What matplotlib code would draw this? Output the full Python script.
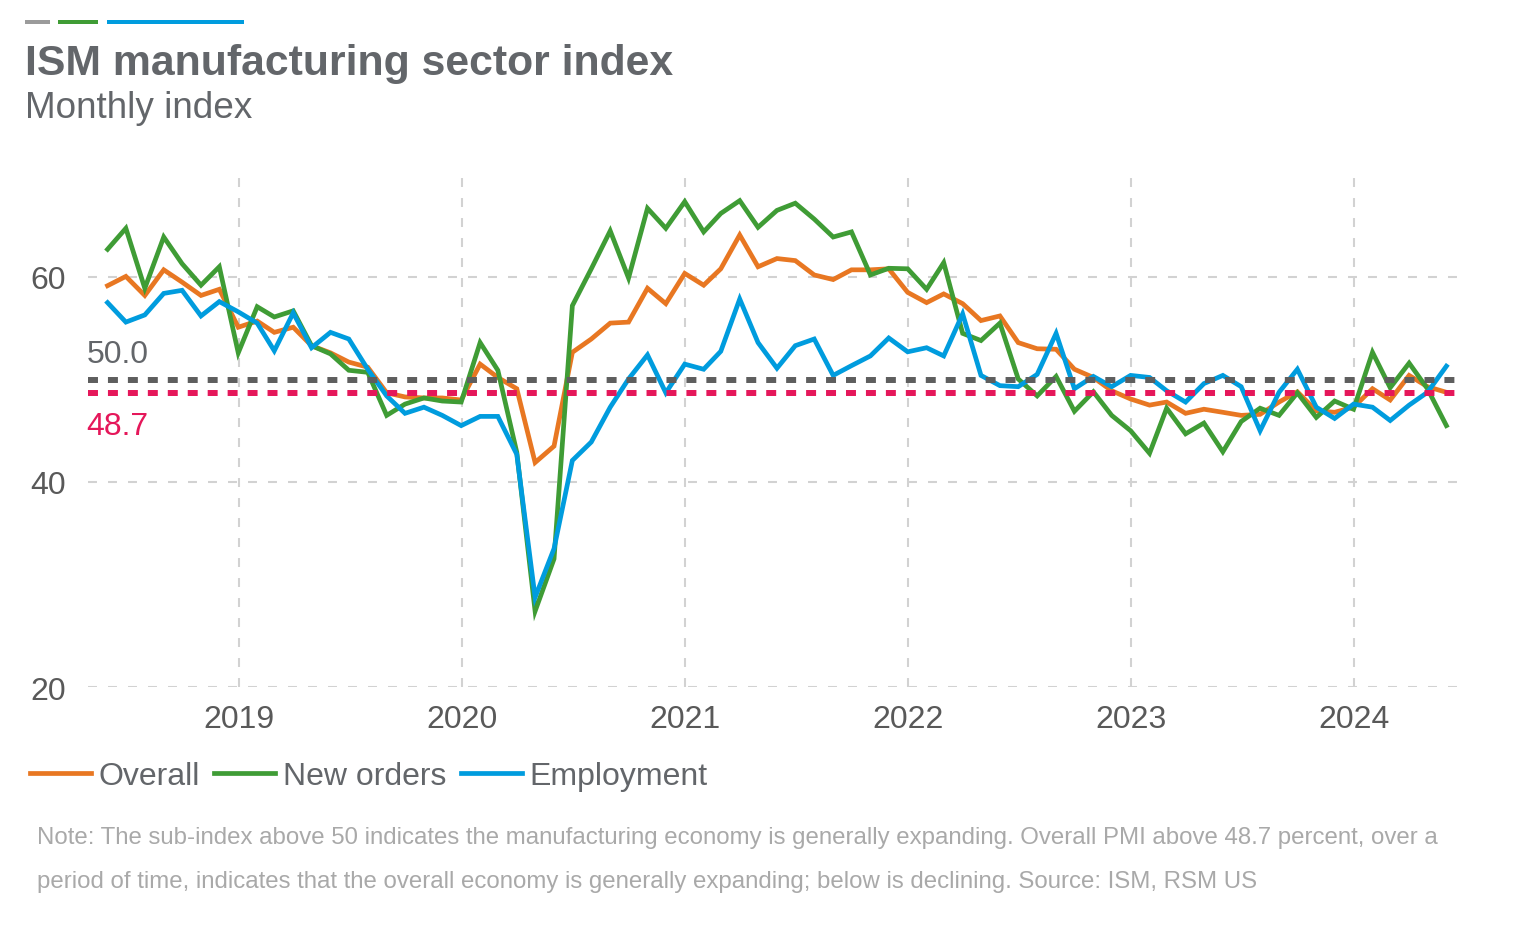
import matplotlib
matplotlib.use('Agg')
import matplotlib.pyplot as plt
import pandas as pd
from matplotlib.patches import Rectangle

plt.rcParams['font.family'] = ['Liberation Sans', 'DejaVu Sans']

# ---------------- data ----------------
months = pd.date_range('2018-05-31', '2024-05-31', freq='ME')

overall = [59.15, 60.06, 58.2, 60.7, 59.5, 58.2, 58.8, 55.1, 55.7, 54.6, 55.1, 53.3,
           52.6, 51.7, 51.2, 48.7, 48.3, 48.2, 48.2, 48.0, 51.5, 50.2, 49.1, 41.9,
           43.5, 52.65, 53.95, 55.5, 55.6, 58.9, 57.4, 60.35, 59.2, 60.8, 64.1, 61.0,
           61.8, 61.6, 60.2, 59.75, 60.7, 60.7, 60.8, 58.5, 57.5, 58.35, 57.4, 55.75,
           56.2, 53.6, 53.0, 52.95, 51.0, 50.2, 48.9, 48.1, 47.5, 47.8, 46.7, 47.1,
           46.8, 46.5, 46.6, 47.8, 48.8, 46.95, 46.8, 47.3, 49.1, 48.0, 50.4, 49.3,
           48.75]

new_orders = [62.7, 64.75, 58.9, 63.9, 61.3, 59.2, 61.0, 52.6, 57.1, 56.1, 56.7, 53.3,
              52.5, 50.9, 50.7, 46.5, 47.6, 48.2, 47.9, 47.8, 53.6, 50.9, 42.9, 27.4,
              32.5, 57.2, 60.8, 64.5, 59.9, 66.7, 64.75, 67.35, 64.4, 66.2, 67.45, 64.85,
              66.5, 67.2, 65.65, 63.9, 64.4, 60.2, 60.85, 60.8, 58.8, 61.4, 54.5, 53.8,
              55.5, 50.05, 48.4, 50.3, 46.9, 48.8, 46.5, 45.0, 42.8, 47.2, 44.7, 45.75,
              42.95, 45.9, 47.2, 46.5, 48.7, 46.3, 47.9, 47.1, 52.65, 49.2, 51.6, 49.1,
              45.5]

employment = [57.5, 55.6, 56.3, 58.4, 58.7, 56.2, 57.6, 56.6, 55.5, 52.8, 56.5, 53.1,
              54.6, 53.95, 51.0, 48.4, 46.7, 47.3, 46.5, 45.5, 46.4, 46.4, 42.7, 28.75,
              33.5, 42.1, 43.9, 47.3, 50.05, 52.4, 48.7, 51.5, 51.0, 52.75, 57.85, 53.6,
              51.1, 53.3, 53.95, 50.4, 51.35, 52.3, 54.05, 52.7, 53.1, 52.3, 56.4, 50.4,
              49.4, 49.3, 50.5, 54.5, 49.1, 50.3, 49.3, 50.4, 50.2, 48.9, 47.8, 49.6,
              50.4, 49.3, 45.0, 48.75, 51.0, 47.3, 46.2, 47.6, 47.3, 46.0, 47.5, 48.75,
              51.3]

series_names = ['Overall', 'New orders', 'Employment']
year_ticks = [2019, 2020, 2021, 2022, 2023, 2024]
y_ticks = [20, 40, 60]
expansion_level = 50.0
economy_level = 48.7

title = 'ISM manufacturing sector index'
subtitle = 'Monthly index'
note_1 = ('Note: The sub-index above 50 indicates the manufacturing economy is generally '
          'expanding. Overall PMI above 48.7 percent, over a')
note_2 = ('period of time, indicates that the overall economy is generally expanding; '
          'below is declining. Source: ISM, RSM US')

# ---------------- style ----------------
C_ORANGE = '#e87722'
C_GREEN = '#3f9c35'
C_BLUE = '#009cde'
C_TEXT = '#63666a'
C_TICK = '#595959'
C_GRID = '#d2d2d2'
C_FIFTY = '#5e5e5e'
C_RED = '#e5175a'
C_NOTE = '#a9a9a9'

W, H = 1520, 928
fig = plt.figure(figsize=(W / 100, H / 100), dpi=100)
fig.patch.set_facecolor('white')

left, right, top, bottom = 88, 1458, 175.5, 688
ax = fig.add_axes([left / W, 1 - bottom / H, (right - left) / W, (bottom - top) / H])

lines = []
for vals, col, name in zip([overall, new_orders, employment],
                           [C_ORANGE, C_GREEN, C_BLUE], series_names):
    ln, = ax.plot(months, vals, color=col, lw=3.4, label=name,
                  solid_joinstyle='miter', zorder=3)
    lines.append(ln)

ax.axhline(expansion_level, color=C_FIFTY, lw=4.3, ls=(0, (1.67, 1.67)),
           dash_capstyle='butt', zorder=4)
ax.axhline(economy_level, color=C_RED, lw=4.3, ls=(0, (1.67, 1.67)),
           dash_capstyle='butt', zorder=4)

ax.annotate(f'{expansion_level:.1f}', xy=(0, expansion_level),
            xycoords=('axes fraction', 'data'), xytext=(-1, 18.5),
            textcoords='offset points', ha='left', va='center',
            fontsize=23, color=C_TEXT)
ax.annotate(f'{economy_level:.1f}', xy=(0, economy_level),
            xycoords=('axes fraction', 'data'), xytext=(-1, -24),
            textcoords='offset points', ha='left', va='center',
            fontsize=23, color=C_RED)

ax.set_xlim(pd.Timestamp('2018-04-29'), pd.Timestamp('2024-06-19'))
ax.set_ylim(20, 70)
ax.set_xticks([pd.Timestamp(f'{y}-01-01') for y in year_ticks])
ax.set_xticklabels([str(y) for y in year_ticks])
ax.set_yticks(y_ticks)
ax.set_yticklabels([str(v) for v in y_ticks])

ax.grid(True, color=C_GRID, lw=1.5, ls=(0, (4.3, 5.3)), zorder=1)
ax.set_axisbelow(True)
for s in ax.spines.values():
    s.set_visible(False)
ax.tick_params(axis='both', length=0, labelsize=23, colors=C_TICK)
ax.tick_params(axis='x', pad=12.5)
ax.tick_params(axis='y', pad=16)

# legend
fig.legend(handles=lines, labels=series_names, loc='center left',
           bbox_to_anchor=(30 / W, 1 - 777 / H), ncol=3, frameon=False,
           fontsize=23, handlelength=1.9, handletextpad=0.25,
           columnspacing=0.45, borderpad=0, borderaxespad=0,
           labelcolor=C_TEXT)

# header
for x0, x1, col in [(25, 50, '#9b9b9b'), (58, 98, C_GREEN), (107, 244, C_BLUE)]:
    fig.patches.append(Rectangle((x0 / W, 1 - 25 / H), (x1 - x0) / W, 4 / H,
                                 transform=fig.transFigure, color=col, lw=0))
fig.text(25 / W, 1 - 75 / H, title, fontsize=30.8, weight='bold',
         color=C_TEXT, va='baseline', ha='left')
fig.text(25 / W, 1 - 118 / H, subtitle, fontsize=26.6,
         color=C_TEXT, va='baseline', ha='left')

# notes
fig.text(37 / W, 1 - 838 / H, note_1, fontsize=17.3, color=C_NOTE,
         va='center', ha='left')
fig.text(37 / W, 1 - 882 / H, note_2, fontsize=17.3, color=C_NOTE,
         va='center', ha='left')

fig.savefig('out.png', dpi=100, facecolor='white')
